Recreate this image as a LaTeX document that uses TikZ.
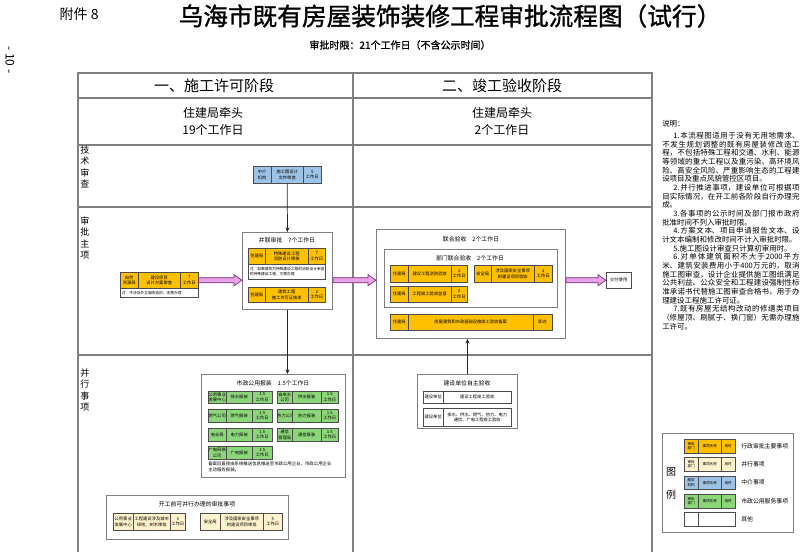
\documentclass[tikz,border=0pt]{standalone}
\usepackage{fontspec}
\setmainfont{Noto Sans CJK SC}
\newfontfamily\heavy{Noto Sans CJK SC}[FakeBold=1.2]
\usetikzlibrary{arrows.meta,calc,shadows}
\XeTeXlinebreaklocale "zh"
\XeTeXlinebreakskip=0pt plus 1pt
\definecolor{cOrange}{HTML}{FFC000}
\definecolor{cYellow}{HTML}{FFF2CC}
\definecolor{cBlue}{HTML}{9DC3E6}
\definecolor{cGreen}{HTML}{8CD67A}
\definecolor{cPink}{HTML}{E6A3E6}
\definecolor{cPinkD}{HTML}{7A2A7A}
\definecolor{cFrame}{HTML}{808080}
\newcommand\fsz[2]{\fontsize{#1}{#2}\selectfont\lineskiplimit=-20pt\parskip=0pt}
\newcommand\mkbox[7]{\node[#2, minimum width={(#5-#3)*0.75pt}, minimum height={(#6-#4)*0.75pt}] (#1) at (#3,#4) {#7};}
\newcommand\pinkarrow[3]{\draw[pinkarr] let \p1=(#1), \p2=(#2), \p3=(#3) in (\x1,\y3+1.9pt) -- (\x2-6pt,\y3+1.9pt) -- (\x2-6pt,\y3+4.2pt) -- (\x2,\y3) -- (\x2-6pt,\y3-4.2pt) -- (\x2-6pt,\y3-1.9pt) -- (\x1,\y3-1.9pt) -- cycle;}
\tikzset{
 cellb/.style={draw=black!70, line width=0.35pt, inner sep=0pt, align=center, anchor=north west, font=\fsz{3.2pt}{4.1pt}},
 cor/.style={cellb, fill=cOrange},
 cyl/.style={cellb, fill=cYellow},
 cbl/.style={cellb, fill=cBlue},
 cgr/.style={cellb, fill=cGreen},
 cwh/.style={cellb, fill=white},
 lgf/.style={font=\fsz{2.7pt}{3.4pt}},
 ctr/.style={draw=cFrame, line width=0.7pt, fill=white, inner sep=0pt, anchor=north west, drop shadow={shadow xshift=0.7pt, shadow yshift=-0.7pt, fill=black!50, opacity=0.6}},
 ttl/.style={font=\fsz{4.4pt}{5pt}, inner sep=0pt},
 ntxt/.style={font=\fsz{2.8pt}{3.6pt}, inner sep=1.2pt, align=left, anchor=west},
 grid/.style={draw=cFrame, line width=0.8pt},
 conn/.style={draw=black!85, line width=0.55pt, -{Stealth[length=3.5pt,width=3pt]}},
 pinkarr/.style={fill=cPink, draw=cPinkD, line width=0.5pt, line join=miter},
 lbl/.style={font=\fsz{6.8pt}{8.6pt}, align=center, inner sep=0pt},
 lgl/.style={font=\fsz{4.4pt}{5pt}, anchor=west, inner sep=0pt},
}
\begin{document}
\begin{tikzpicture}[x=0.75pt, y=-0.75pt]
\useasboundingbox (0,0) rectangle (800,552);
\fill[white] (0,0) rectangle (800,552);
% heading
\node[anchor=west, font=\fsz{10.5pt}{12pt}] (fj) at (55,14) {附件\ 8};
\node[font=\heavy\fsz{18.5pt}{20pt}] (title) at (450,16) {乌海市既有房屋装饰装修工程审批流程图（试行）};
\node[font=\heavy\fsz{7.5pt}{9pt}] (sub) at (400,45) {审批时限：21个工作日（不含公示时间）};
\node[rotate=-90, font=\fsz{9pt}{10pt}] (pg) at (10,60) {- 10 -};
% table
\draw[grid] (78,552) -- (78,73) -- (652,73) -- (652,552);
\draw[grid] (353,73) -- (353,552);
\draw[grid] (78,98) -- (652,98);
\draw[grid] (78,145) -- (652,145);
\draw[grid] (78,207) -- (652,207);
\draw[grid] (78,355) -- (652,355);
\node[font=\fsz{11.25pt}{13pt}] (h1) at (214,86) {一、施工许可阶段};
\node[font=\fsz{11.25pt}{13pt}] (h2) at (502,86) {二、竣工验收阶段};
\node[font=\fsz{9pt}{12.75pt}, align=center] (l1) at (213,121) {住建局牵头\\19个工作日};
\node[font=\fsz{9pt}{12.75pt}, align=center] (l2) at (502,121) {住建局牵头\\2个工作日};
\node[lbl] (r1) at (85,167) {技\\术\\审\\查};
\node[lbl] (r2) at (85,238) {审\\批\\主\\项};
\node[lbl] (r3) at (85,390) {并\\行\\事\\项};
% technical review
\mkbox{tj-a}{cbl}{253}{166}{271}{183}{中介\\机构}
\mkbox{tj-b}{cbl}{271}{166}{303}{183}{施工图设计\\文件审查}
\mkbox{tj-c}{cbl}{303}{166}{321}{183}{5\\工作日}
% natural resources
\mkbox{zr-a}{cor}{120}{272}{138}{288}{自然\\资源局}
\mkbox{zr-b}{cor}{138}{272}{180}{288}{建设项目\\设计方案审查}
\mkbox{zr-c}{cor}{180}{272}{198}{288}{7\\工作日}
\mkbox{zr-n}{cwh}{120}{288}{198}{297}{}
\node[ntxt] (zr-nt) at (zr-n.west) {注：不涉及外立面改造的，无需办理};
% parallel approval
\mkbox{bl}{ctr}{242}{232}{332}{309}{}
\node[ttl] (bl-t) at (287,240) {并联审批\quad 7个工作日};
\mkbox{bl1-a}{cor}{248}{248}{265}{264}{住建局}
\mkbox{bl1-b}{cor}{265}{248}{308}{264}{特殊建设工程\\消防设计审核}
\mkbox{bl1-c}{cor}{308}{248}{325}{264}{7\\工作日}
\mkbox{bl1-n}{cwh}{248}{264}{325}{279}{}
\node[ntxt] (bl1-nt) at (bl1-n.west) {注：如果建筑为特殊建设工程的消防设计审查\\的特殊建设工程，方需办理};
\mkbox{bl2-a}{cor}{248}{287}{265}{302}{住建局}
\mkbox{bl2-b}{cor}{265}{287}{308}{302}{建筑工程\\施工许可证核发}
\mkbox{bl2-c}{cor}{308}{287}{325}{302}{2\\工作日}
% municipal utilities
\mkbox{sz}{ctr}{201}{374}{345}{477}{}
\node[ttl] (sz-t) at (273,383) {市政公用报装\quad 1.5个工作日};
\mkbox{s1-a}{cgr}{208}{391}{226}{403}{公用事业\\发展中心}
\mkbox{s1-b}{cgr}{226}{391}{252}{403}{排水报装}
\mkbox{s1-c}{cgr}{252}{391}{272}{403}{1.5\\工作日}
\mkbox{s2-a}{cgr}{277}{391}{292}{403}{自来水\\公司}
\mkbox{s2-b}{cgr}{292}{391}{321}{403}{供水报装}
\mkbox{s2-c}{cgr}{321}{391}{338}{403}{1.5\\工作日}
\mkbox{s3-a}{cgr}{208}{409}{226}{422}{燃气公司}
\mkbox{s3-b}{cgr}{226}{409}{252}{422}{燃气报装}
\mkbox{s3-c}{cgr}{252}{409}{272}{422}{1.5\\工作日}
\mkbox{s4-a}{cgr}{277}{409}{292}{422}{热力公司}
\mkbox{s4-b}{cgr}{292}{409}{321}{422}{热力报装}
\mkbox{s4-c}{cgr}{321}{409}{338}{422}{1.5\\工作日}
\mkbox{s5-a}{cgr}{208}{428}{226}{441}{电业局}
\mkbox{s5-b}{cgr}{226}{428}{252}{441}{电力报装}
\mkbox{s5-c}{cgr}{252}{428}{272}{441}{1.5\\工作日}
\mkbox{s6-a}{cgr}{277}{428}{292}{441}{通信\\管理局}
\mkbox{s6-b}{cgr}{292}{428}{321}{441}{通信报装}
\mkbox{s6-c}{cgr}{321}{428}{338}{441}{1.5\\工作日}
\mkbox{s7-a}{cgr}{208}{446}{226}{459}{广电网络\\公司}
\mkbox{s7-b}{cgr}{226}{446}{252}{459}{广电报装}
\mkbox{s7-c}{cgr}{252}{446}{272}{459}{1.5\\工作日}
\node[font=\fsz{3.3pt}{4.5pt}, align=left, anchor=north west, inner sep=0pt] (sz-n) at (208,461) {备案后直接由系统推送信息推送至市政公用企业，市政公用企业\\主动服务报装。};
% before-start parallel items
\mkbox{kg}{ctr}{106}{495}{288}{539}{}
\node[ttl] (kg-t) at (197,504) {开工前可并行办理的审批事项};
\mkbox{k1-a}{cyl}{113}{513}{133}{530}{公用事业\\发展中心}
\mkbox{k1-b}{cyl}{133}{513}{170}{530}{工程建设涉及城市\\绿地、树木审批}
\mkbox{k1-c}{cyl}{170}{513}{185}{530}{3\\工作日}
\mkbox{k2-a}{cyl}{200}{513}{220}{530}{安全局}
\mkbox{k2-b}{cyl}{220}{513}{263}{530}{涉及国家安全事项\\的建设项目审批}
\mkbox{k2-c}{cyl}{263}{513}{282}{530}{5\\工作日}
% joint acceptance
\mkbox{lh}{ctr}{376}{229}{565}{338}{}
\node[ttl] (lh-t) at (471,239) {联合验收\quad 2个工作日};
\mkbox{bm}{ctr}{384}{249}{557}{307}{}
\node[ttl] (bm-t) at (470,258) {部门联合验收\quad 2个工作日};
\mkbox{y1-a}{cor}{390}{265}{408}{282}{住建局}
\mkbox{y1-b}{cor}{408}{265}{451}{282}{建设工程消防验收}
\mkbox{y1-c}{cor}{451}{265}{467}{282}{2\\工作日}
\mkbox{y2-a}{cor}{474}{265}{491}{282}{安全局}
\mkbox{y2-b}{cor}{491}{265}{534}{282}{涉及国家安全事项\\的建设项目验收}
\mkbox{y2-c}{cor}{534}{265}{552}{282}{2\\工作日}
\mkbox{y3-a}{cor}{390}{286}{408}{302}{住建局}
\mkbox{y3-b}{cor}{408}{286}{451}{302}{工程竣工验收监督}
\mkbox{y3-c}{cor}{451}{286}{467}{302}{2\\工作日}
\mkbox{y4-a}{cor}{390}{314}{408}{330}{住建局}
\mkbox{y4-b}{cor}{408}{314}{533}{330}{房屋建筑和市政基础设施竣工验收备案}
\mkbox{y4-c}{cor}{533}{314}{552}{330}{即办}
\mkbox{jf}{cwh}{606}{272}{631}{288}{交付使用}
% self acceptance
\mkbox{zz}{ctr}{417}{374}{517}{428}{}
\node[ttl] (zz-t) at (467,383) {建设单位自主验收};
\mkbox{z1-a}{cwh}{423}{391}{443}{403}{建设单位}
\mkbox{z1-b}{cwh}{443}{391}{511}{403}{建设工程竣工验收}
\mkbox{z2-a}{cwh}{423}{408}{443}{426}{建设单位}
\mkbox{z2-b}{cwh}{443}{408}{511}{426}{排水、供水、燃气、热力、电力\\通信、广电工程竣工验收}
% connectors
\draw[conn] (tj-b.south) -- (bl.north);
\draw[conn] (bl.south) -- (bl.south |- sz.north);
\draw[conn] (zz.north) -- (zz.north |- lh.south);
\pinkarrow{zr-c.east}{bl.west}{zr-c.east}
\pinkarrow{bl.east}{lh.west}{zr-c.east}
\pinkarrow{lh.east}{jf.west}{jf.west}
% notes
\node[anchor=north west, text width=103pt, align=justify, inner sep=0pt, font=\fsz{5.6pt}{6.5pt}] (notes) at (662,120) {说明：\par\vspace{2.5pt}%
\hspace*{1.5em}1.本流程图适用于没有无用地需求、\linebreak 不发生规划调整的既有房屋装修改造工\linebreak 程，不包括特殊工程和交通、水利、能源\linebreak 等领域的重大工程以及重污染、高环境风\linebreak 险、高安全风险、严重影响生态的工程建\linebreak 设项目及重点风貌管控区项目。\par
\hspace*{1.5em}2.并行推进事项，建设单位可根据项\linebreak 目实际情况，在开工前各阶段自行办理完\linebreak 成。\par
\hspace*{1.5em}3.各事项的公示时间及部门报市政府\linebreak 批准时间不列入审批时限。\par
\hspace*{1.5em}4.方案文本、项目申请报告文本、设\linebreak 计文本编制和修改时间不计入审批时限。\par
\hspace*{1.5em}5.施工图设计审查只计算初审用时。\par
\hspace*{1.5em}6.对单体建筑面积不大于2000平方\linebreak 米、建筑安装费用小于400万元的，取消\linebreak 施工图审查，设计企业提供施工图纸满足\linebreak 公共利益、公众安全和工程建设强制性标\linebreak 准承诺书代替施工图审查合格书，用于办\linebreak 理建设工程施工许可证。\par
\hspace*{1.5em}7.既有房屋无结构改动的修缮类项目\linebreak （修屋顶、刷腻子、换门窗）无需办理施\linebreak 工许可。};
% legend
\mkbox{lg}{ctr}{662}{433}{793}{532}{}
\node[font=\fsz{7.5pt}{8pt}, inner sep=0pt] (lg-t1) at (671,472) {图};
\node[font=\fsz{7.5pt}{8pt}, inner sep=0pt] (lg-t2) at (671,495) {例};
\mkbox{g1-a}{cor,lgf}{684}{439}{698}{453}{审批\\部门}
\mkbox{g1-b}{cor,lgf}{698}{439}{721}{453}{事项名称}
\mkbox{g1-c}{cor,lgf}{721}{439}{735}{453}{用时}
\node[lgl] (g1-t) at (741,446) {行政审批主要事项};
\mkbox{g2-a}{cyl,lgf}{684}{457}{698}{471}{审批\\部门}
\mkbox{g2-b}{cyl,lgf}{698}{457}{721}{471}{事项名称}
\mkbox{g2-c}{cyl,lgf}{721}{457}{735}{471}{用时}
\node[lgl] (g2-t) at (741,464) {并行事项};
\mkbox{g3-a}{cbl,lgf}{684}{476}{698}{489}{服务\\机构}
\mkbox{g3-b}{cbl,lgf}{698}{476}{721}{489}{事项名称}
\mkbox{g3-c}{cbl,lgf}{721}{476}{735}{489}{用时}
\node[lgl] (g3-t) at (741,482.5) {中介事项};
\mkbox{g4-a}{cgr,lgf}{684}{494}{698}{508}{审批\\部门}
\mkbox{g4-b}{cgr,lgf}{698}{494}{721}{508}{事项名称}
\mkbox{g4-c}{cgr,lgf}{721}{494}{735}{508}{用时}
\node[lgl] (g4-t) at (741,501) {市政公用服务事项};
\mkbox{g5-a}{cwh}{684}{512}{698}{526}{}
\mkbox{g5-b}{cwh}{698}{512}{735}{526}{}
\node[lgl] (g5-t) at (741,519) {其他};
\end{tikzpicture}
\end{document}
